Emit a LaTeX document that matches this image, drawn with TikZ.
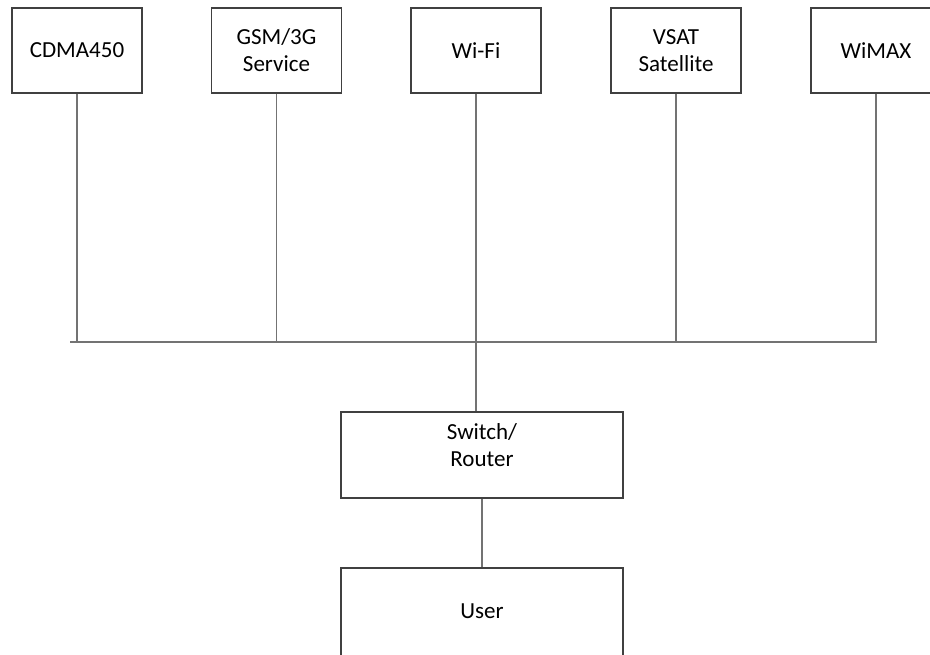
\documentclass[tikz,border=0pt]{standalone}
\usepackage{fontspec}
\setmainfont{Carlito}
\usetikzlibrary{positioning}

\begin{document}
\begin{tikzpicture}[
            x = 1pt, y = -1pt,
            every node/.style = {draw = black!75, line width = 1.3pt, minimum width = 130pt, minimum height = 85pt, align = center, font = \fontsize{23}{27}\selectfont},
            wide/.style = {minimum width = 282pt, minimum height = 86pt},
            link/.style = {draw = black!55, line width = 1.5pt}
            ]
            \useasboundingbox (0,0) rectangle (930,654);
            \clip (0,0) rectangle (930,654);
            % access networks
            \node (cdma) at (77,50.5) {CDMA450};
            \node (gsm) at (276.5,50.5) {GSM/3G\\Service};
            \node (wifi) at (476,50.5) {Wi-Fi};
            \node (vsat) at (676,50.5) {VSAT\\Satellite};
            \node (wimax) at (876,50.5) {WiMAX};
            \node[wide, text depth = 19pt] (switch) at (482,455) {Switch/\\Router};
            \node[wide, minimum height = 100pt, text depth = 14pt] (user) at (482,618) {User};
            % shared bus
            \coordinate (busL) at (70,342);
            \coordinate (busR) at (877,342);
            \draw[link] (busL) -- (busR);
            \foreach \n in {cdma, gsm, wifi, vsat, wimax}
                \draw[link] (\n.south) -- (\n.south |- busL);
            \draw[link] (wifi.south |- busL) -- (wifi.south |- switch.north);
            \draw[link] (switch) -- (user);
          \end{tikzpicture}
\end{document}
